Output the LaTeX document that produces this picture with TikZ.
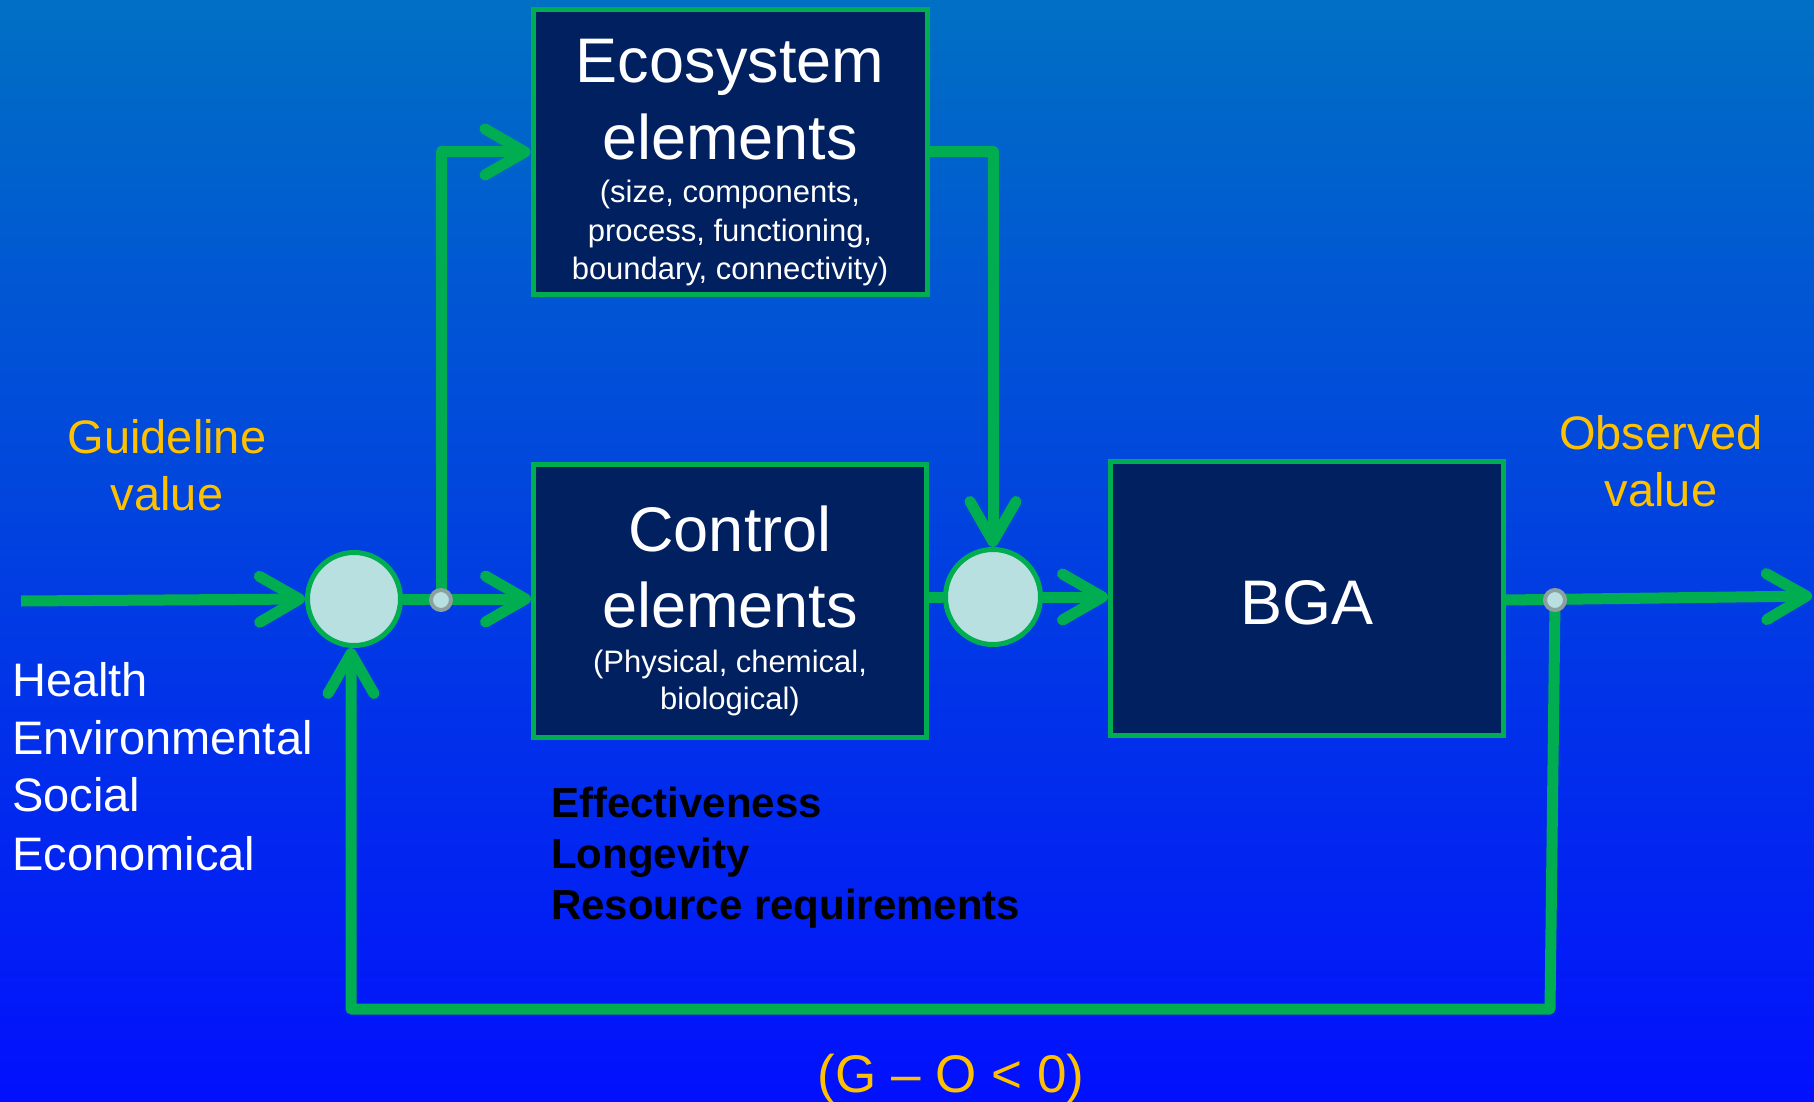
\documentclass[tikz,border=0pt]{standalone}
\usepackage{fontspec}
\setmainfont{Liberation Sans}
\usetikzlibrary{arrows.meta}
\pgfdeclarelayer{bglayer}
\pgfdeclarelayer{edgelayer}
\pgfsetlayers{bglayer,edgelayer,main}
\definecolor{gr}{RGB}{0,173,80}
\definecolor{navy}{RGB}{0,32,96}
\definecolor{pale}{RGB}{185,224,225}
\definecolor{dotgray}{RGB}{140,160,160}
\definecolor{orng}{RGB}{255,192,0}
\definecolor{bgtop}{RGB}{0,112,196}
\definecolor{bgmid}{RGB}{0,66,228}
\definecolor{bgbot}{RGB}{2,16,253}
\tikzset{
  blockbox/.style={draw=gr, line width=5pt, fill=navy, inner sep=0pt},
  sumnode/.style={circle, draw=gr, line width=5pt, fill=pale, inner sep=0pt},
  tapdot/.style={circle, draw=dotgray, line width=4pt, fill=pale, minimum size=20pt, inner sep=0pt},
  conn/.style={draw=gr, line width=11pt, line join=round},
  arr/.style={conn, -{Straight Barb[round, length=40pt, width=46pt]}},
  bigtxt/.style={font=\fontsize{63}{76}\selectfont, text=white, inner sep=0pt, anchor=base},
  smalltxt/.style={font=\fontsize{31}{38}\selectfont, text=white, inner sep=0pt, anchor=base},
  oranget/.style={font=\fontsize{47}{57}\selectfont, text=orng, inner sep=0pt, anchor=base},
  whitet/.style={font=\fontsize{47}{57}\selectfont, text=white, inner sep=0pt, anchor=base west},
  blackt/.style={font=\fontsize{42}{51}\selectfont\bfseries, text=black, inner sep=0pt, anchor=base west},
}
\begin{document}
\begin{tikzpicture}[x=1pt, y=-1pt]
\begin{pgfonlayer}{bglayer}
\shade[top color=bgtop, middle color=bgmid, bottom color=bgbot] (0,0) rectangle (1814,1102);
\end{pgfonlayer}
\useasboundingbox (0,0) rectangle (1814,1102);

% blocks
\node[blockbox, minimum width=394pt, minimum height=284pt] (eco) at (730,152) {};
\node[blockbox, minimum width=393pt, minimum height=273pt] (ctrl) at (730,601) {};
\node[blockbox, minimum width=393pt, minimum height=274pt] (bga) at (1307,598.5) {};

% summing junctions
\node[sumnode, minimum size=93pt] (s1) at (354,599) {};
\node[sumnode, minimum size=95pt] (s2) at (993,597) {};

% take-off points
\coordinate (in) at (21,601);
\coordinate (out) at (1812,596);
\coordinate (fb1) at (1550,1009);
\coordinate (fb2) at (351,1009);

% connectors
\begin{pgfonlayer}{edgelayer}
\draw[arr] (in) -- (s1.west);
\draw[arr] (s1.east) -- (ctrl.west |- s1.east);
\draw[arr] (441,600) |- (eco.west);
\draw[arr] (eco.east) -| (s2.north);
\draw[conn] (s2.west -| ctrl.east) -- (s2.west);
\draw[arr] (s2.east) -- (bga.west |- s2.east);
\draw[arr] (bga.east |- 0,600) -- (out);
\draw[arr] (1555,600) -- (fb1) -- (fb2) -- (fb2 |- s1.south);
\end{pgfonlayer}

\node[tapdot] (d1) at (441,600) {};
\node[tapdot] (d2) at (1555,600) {};

% texts in blocks
\node[bigtxt] (e1) at (730,83) {Ecosystem};
\node[bigtxt] (e2) at (730,160) {elements};
\node[smalltxt] (e3) at (730,203) {(size, components,};
\node[smalltxt] (e4) at (730,241) {process, functioning,};
\node[smalltxt] (e5) at (730,279) {boundary, connectivity)};

\node[bigtxt] (c1) at (730,551) {Control};
\node[bigtxt] (c2) at (730,627) {elements};
\node[smalltxt] (c3) at (730,672) {(Physical, chemical,};
\node[smalltxt] (c4) at (730,709) {biological)};

\node[bigtxt] (b1) at (1307,624) {BGA};

% side labels
\node[oranget] (g1) at (167,453) {Guideline};
\node[oranget] (g2) at (167,510) {value};
\node[oranget] (o1) at (1661,449) {Observed};
\node[oranget] (o2) at (1661,506) {value};

\node[whitet] (h1) at (12,696) {Health};
\node[whitet] (h2) at (12,754) {Environmental};
\node[whitet] (h3) at (12,811) {Social};
\node[whitet] (h4) at (12,870) {Economical};

\node[blackt] (k1) at (551,817) {Effectiveness};
\node[blackt] (k2) at (551,868) {Longevity};
\node[blackt] (k3) at (551,919) {Resource requirements};

\node[font=\fontsize{53}{64}\selectfont, text=orng, inner sep=0pt, anchor=base] (cond) at (951,1092) {(G – O < 0)};
\end{tikzpicture}
\end{document}
